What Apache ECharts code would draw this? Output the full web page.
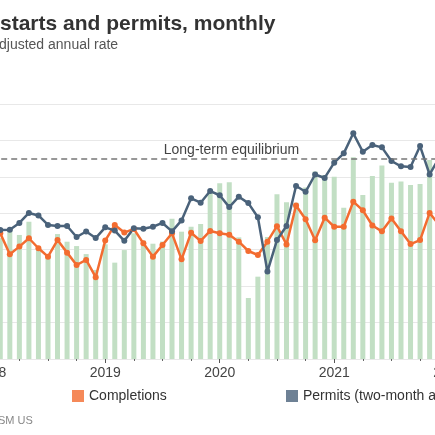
<!DOCTYPE html>
<html>
<head>
<meta charset="utf-8">
<script src="https://cdn.jsdelivr.net/npm/echarts@6/dist/echarts.min.js"></script>
<style>
  html, body { margin: 0; padding: 0; background: #fff; overflow: hidden; }
  #chart { width: 435px; height: 435px; }
</style>
</head>
<body>
<div id="chart"></div>
<script>
var months = [
  "2017-12",
  "2018-01","2018-02","2018-03","2018-04","2018-05","2018-06","2018-07","2018-08","2018-09","2018-10","2018-11","2018-12",
  "2019-01","2019-02","2019-03","2019-04","2019-05","2019-06","2019-07","2019-08","2019-09","2019-10","2019-11","2019-12",
  "2020-01","2020-02","2020-03","2020-04","2020-05","2020-06","2020-07","2020-08","2020-09","2020-10","2020-11","2020-12",
  "2021-01","2021-02","2021-03","2021-04","2021-05","2021-06","2021-07","2021-08","2021-09","2021-10","2021-11","2021-12",
  "2022-01"
];

// thousands of units, seasonally adjusted annual rate
var starts = [
  1250,
  1330, 1265, 1314, 1281, 1354, 1212, 1175, 1286, 1244, 1220, 1176, 1089,
  1230, 1129, 1198, 1290, 1250, 1233, 1245, 1370, 1299, 1326, 1341, 1520,
  1565, 1570, 1268, 935, 1052, 1270, 1505, 1460, 1458, 1541, 1630, 1610,
  1601, 1430, 1707, 1500, 1605, 1663, 1568, 1575, 1555, 1561, 1693, 1700,
  1650
];

var completions = [
  1240,
  1250, 1290, 1175, 1217, 1263, 1208, 1162, 1253, 1184, 1116, 1144, 1049,
  1250, 1336, 1294, 1314, 1235, 1162, 1226, 1290, 1147, 1293, 1248, 1303,
  1290, 1282, 1244, 1193, 1171, 1244, 1329, 1229, 1443, 1367, 1252, 1376,
  1326, 1326, 1464, 1416, 1333, 1301, 1372, 1301, 1231, 1253, 1402, 1336,
  1300
];

var permits = [
  1310,
  1300, 1308, 1310, 1347, 1402, 1388, 1336, 1330, 1330, 1270, 1300, 1264,
  1323, 1305, 1249, 1318, 1315, 1326, 1347, 1301, 1361, 1482, 1458, 1522,
  1499, 1434, 1491, 1456, 1378, 1080, 1253, 1330, 1550, 1518, 1613, 1594,
  1678, 1729, 1839, 1738, 1775, 1762, 1687, 1658, 1654, 1769, 1613, 1705,
  1740
];

var equilibrium = 1700;
var yTicks = { min: 600, max: 2000, step: 200 };
var quarterMonths = ["01", "04", "07", "10"];

var font = "'Liberation Sans', Arial, sans-serif";
var barGreen = "#c2dfc4";
var chart = echarts.init(document.getElementById("chart"));

function isJan(i, v) { return v.slice(5) === "01"; }

var option = {
  animation: false,
  backgroundColor: "#fff",
  title: [
    {
      text: "starts and permits, monthly",
      left: 0, top: 14, padding: 0,
      textStyle: { fontFamily: font, fontSize: 21, fontWeight: "bold", color: "#333" }
    },
    {
      text: "djusted annual rate",
      left: -1, top: 38, padding: 0,
      textStyle: { fontFamily: font, fontSize: 14, fontWeight: "normal", color: "#555" }
    },
    {
      text: "SM US",
      left: -2, top: 415, padding: 0,
      textStyle: { fontFamily: font, fontSize: 11, fontWeight: "normal", color: "#888" }
    }
  ],
  legend: [
    {
      data: [{ name: "Completions", itemStyle: { opacity: 0.8 } }],
      left: 72, top: 389, padding: 0,
      icon: "rect", itemWidth: 12, itemHeight: 12, itemGap: 6,
      textStyle: { fontFamily: font, fontSize: 14, color: "#333" }
    },
    {
      data: [{ name: "Permits (two-month average)", itemStyle: { opacity: 0.8 } }],
      left: 286, top: 389, padding: 0,
      icon: "rect", itemWidth: 12, itemHeight: 12, itemGap: 6,
      textStyle: { fontFamily: font, fontSize: 14, color: "#333" }
    }
  ],
  grid: {
    left: -18.8, right: -13.7, top: 104, bottom: 76,
    containLabel: false,
    outerBoundsMode: "none"
  },
  xAxis: [
    {
      type: "category",
      data: months,
      boundaryGap: false,
      axisLine: { show: false },
      axisTick: {
        show: true, length: 2,
        lineStyle: { color: "#666" },
        interval: function (i, v) { return quarterMonths.indexOf(v.slice(5)) >= 0; }
      },
      axisLabel: {
        margin: 7,
        fontFamily: font, fontSize: 14, color: "#444",
        interval: isJan,
        formatter: function (v) { return v.slice(0, 4); }
      },
      splitLine: { show: false }
    },
    {
      // longer ticks at each new year
      type: "category",
      data: months,
      position: "bottom",
      boundaryGap: false,
      axisLine: { show: false },
      axisLabel: { show: false },
      axisTick: { show: true, length: 4, lineStyle: { color: "#555" }, interval: isJan },
      splitLine: { show: false }
    }
  ],
  yAxis: {
    type: "value",
    min: yTicks.min, max: yTicks.max, interval: yTicks.step,
    axisLabel: { show: false },
    axisLine: { show: false },
    axisTick: { show: false },
    splitLine: { lineStyle: { color: "#e8e8e8", width: 1 } }
  },
  series: [
    {
      name: "Starts",
      type: "bar",
      data: starts,
      barWidth: 5,
      itemStyle: { color: barGreen, borderWidth: 0 },
      markLine: {
        silent: true,
        symbol: "none",
        lineStyle: { color: "#777", type: [6, 4], width: 1.5 },
        label: {
          show: true,
          position: "insideMiddleTop",
          distance: 2,
          padding: [0, 0, 0, 33],
          formatter: "Long-term equilibrium",
          fontFamily: font, fontSize: 14, color: "#444"
        },
        data: [{ yAxis: equilibrium }]
      }
    },
    {
      name: "Completions",
      type: "line",
      data: completions,
      symbol: "circle",
      symbolSize: 6,
      showAllSymbol: true,
      lineStyle: { color: "#f36c30", width: 2.5 },
      itemStyle: { color: "#f36c30" }
    },
    {
      name: "Permits (two-month average)",
      type: "line",
      data: permits,
      symbol: "circle",
      symbolSize: 6,
      showAllSymbol: true,
      lineStyle: { color: "#4a627a", width: 2.5 },
      itemStyle: { color: "#4a627a" }
    }
  ]
};

chart.setOption(option);
</script>
</body>
</html>
